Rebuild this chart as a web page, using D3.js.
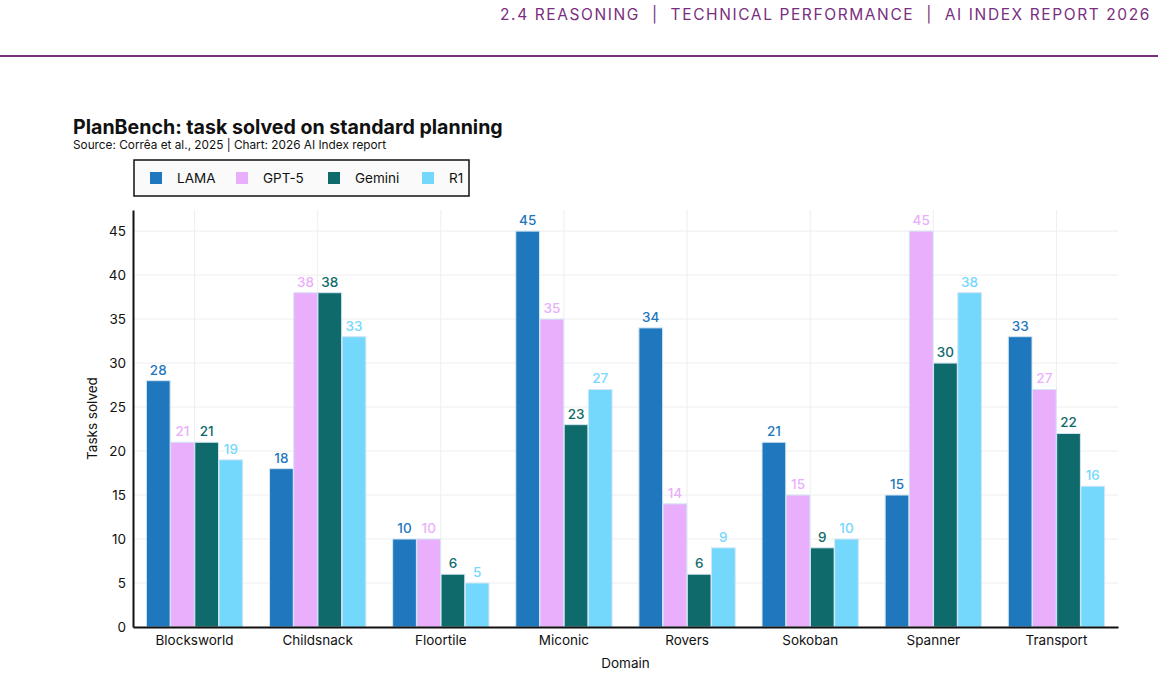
<!DOCTYPE html>
<html>
<head>
<meta charset="utf-8">
<script src="https://cdn.jsdelivr.net/npm/d3@7"></script>
<style>
  body { margin: 0; background: #fff; font-family: Inter, "Noto Sans", sans-serif; }
</style>
</head>
<body>
<div id="chart"></div>
<script>
// data
const domains = ["Blocksworld", "Childsnack", "Floortile", "Miconic", "Rovers", "Sokoban", "Spanner", "Transport"];
const models = ["LAMA", "GPT-5", "Gemini", "R1"];
const lama   = [28, 18, 10, 45, 34, 21, 15, 33];
const gpt5   = [21, 38, 10, 35, 14, 15, 45, 27];
const gemini = [21, 38, 6, 23, 6, 9, 30, 22];
const r1     = [19, 33, 5, 27, 9, 10, 38, 16];
const yTicks = [0, 5, 10, 15, 20, 25, 30, 35, 40, 45];

const colors = ["#1f77bd", "#e9affc", "#0f6a6b", "#74d8fd"];
const series = [lama, gpt5, gemini, r1];

var W = 1158, H = 676;
var margin = {top: 210, right: 40, bottom: 49, left: 133},
    width = W - margin.left - margin.right,
    height = H - margin.top - margin.bottom;

var svg = d3.select("#chart").append("svg")
    .attr("width", W)
    .attr("height", H);

// page header
svg.append("text")
    .attr("x", 1151).attr("y", 20)
    .attr("text-anchor", "end")
    .attr("fill", "#7a2e80")
    .style("font-size", "15.5px")
    .style("letter-spacing", "1.6px")
    .style("white-space", "pre")
    .text("2.4 REASONING  |  TECHNICAL PERFORMANCE  |  AI INDEX REPORT 2026");
svg.append("line")
    .attr("x1", 0).attr("x2", W)
    .attr("y1", 56).attr("y2", 56)
    .attr("stroke", "#7a2e80").attr("stroke-width", 2);

// title
svg.append("text")
    .attr("x", 73).attr("y", 134)
    .style("font-size", "19.6px").style("font-weight", "bold")
    .attr("fill", "#111")
    .text("PlanBench: task solved on standard planning");
svg.append("text")
    .attr("x", 73).attr("y", 149)
    .style("font-size", "11.8px")
    .attr("fill", "#111")
    .text("Source: Corrêa et al., 2025 | Chart: 2026 AI Index report");

// legend
var legend = svg.append("g");
legend.append("rect")
    .attr("x", 134).attr("y", 160).attr("width", 335).attr("height", 36)
    .attr("fill", "#fafafa").attr("stroke", "#111").attr("stroke-width", 1.5);
var legX = [150, 236, 328, 422];
models.forEach(function(m, i) {
    legend.append("rect")
        .attr("x", legX[i]).attr("y", 172).attr("width", 12).attr("height", 12)
        .attr("fill", colors[i]);
    legend.append("text")
        .attr("x", legX[i] + 27).attr("y", 183)
        .style("font-size", "13.5px").attr("fill", "#111")
        .text(m);
});

var g = svg.append("g")
    .attr("transform", "translate(" + margin.left + "," + margin.top + ")");

var x = d3.scaleBand()
    .domain(domains)
    .range([0, width])
    .paddingInner(0.21)
    .paddingOuter(0.105);

var xSub = d3.scaleBand()
    .domain(models)
    .range([0, x.bandwidth()])
    .padding(0.02);

var y = d3.scaleLinear()
    .domain([0, 47.4])
    .range([height, 0]);

// grid
g.selectAll(".hgrid")
    .data(yTicks.slice(1))
    .enter().append("line")
    .attr("x1", 0).attr("x2", width)
    .attr("y1", function(d) { return y(d); })
    .attr("y2", function(d) { return y(d); })
    .attr("stroke", "#eeeeee");
g.selectAll(".vgrid")
    .data(domains)
    .enter().append("line")
    .attr("x1", function(d) { return x(d) + x.bandwidth() / 2; })
    .attr("x2", function(d) { return x(d) + x.bandwidth() / 2; })
    .attr("y1", 0).attr("y2", height)
    .attr("stroke", "#eeeeee");

// bars
series.forEach(function(vals, si) {
    var m = models[si];
    var bars = g.append("g");
    bars.selectAll("rect")
        .data(vals)
        .enter().append("rect")
        .attr("x", function(d, i) { return x(domains[i]) + xSub(m); })
        .attr("y", function(d) { return y(d); })
        .attr("width", xSub.bandwidth())
        .attr("height", function(d) { return height - y(d); })
        .attr("fill", colors[si])
        .attr("stroke", "#d3e6f3")
        .attr("stroke-width", 1);
    bars.selectAll("text")
        .data(vals)
        .enter().append("text")
        .attr("x", function(d, i) { return x(domains[i]) + xSub(m) + xSub.bandwidth() / 2; })
        .attr("y", function(d) { return y(d) - 6; })
        .attr("text-anchor", "middle")
        .style("font-size", "13.5px")
        .style("font-weight", "500")
        .attr("fill", colors[si])
        .text(function(d) { return d; });
});

// axes
var xAxis = g.append("g")
    .attr("transform", "translate(0," + height + ")")
    .call(d3.axisBottom(x).tickSize(0).tickPadding(8));
xAxis.select(".domain").attr("stroke", "#111").attr("stroke-width", 2);
xAxis.selectAll("text").style("font-size", "13.5px").style("font-family", "Inter, sans-serif").attr("fill", "#111");

var yAxis = g.append("g")
    .call(d3.axisLeft(y).tickValues(yTicks).tickSize(0).tickPadding(7));
yAxis.select(".domain").attr("stroke", "#111").attr("stroke-width", 2);
yAxis.selectAll("text").style("font-size", "13.5px").style("font-family", "Inter, sans-serif").attr("fill", "#111");

// axis titles
svg.append("text")
    .attr("x", margin.left + width / 2).attr("y", 668)
    .attr("text-anchor", "middle")
    .style("font-size", "13.5px").attr("fill", "#111")
    .text("Domain");
svg.append("text")
    .attr("transform", "translate(97," + (margin.top + height / 2) + ") rotate(-90)")
    .attr("text-anchor", "middle")
    .style("font-size", "13.5px").attr("fill", "#111")
    .text("Tasks solved");
</script>
</body>
</html>
